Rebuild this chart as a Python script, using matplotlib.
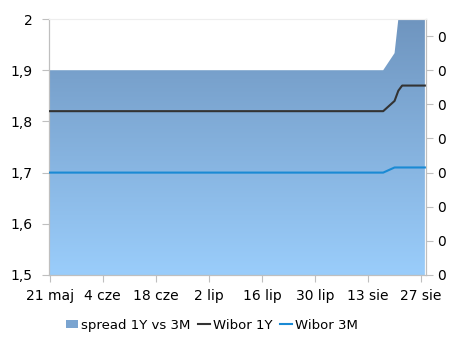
import numpy as np
import pandas as pd
import matplotlib
matplotlib.use("Agg")
import matplotlib.pyplot as plt
import matplotlib.dates as mdates
from matplotlib.colors import LinearSegmentedColormap
from matplotlib.patches import Patch
from matplotlib.lines import Line2D
from matplotlib.ticker import FixedLocator, FuncFormatter

# dni robocze 21.05 - 28.08
dates = pd.bdate_range("2012-05-21", "2012-08-28")
n = len(dates)

# stawki WIBOR (%): plasko do 17 sie, potem wzrost
wibor_1y_tail = [1.84, 1.86, 1.87, 1.87, 1.87, 1.87, 1.87]
wibor_3m_tail = [1.71, 1.71, 1.71, 1.71, 1.71, 1.71, 1.71]
wibor_1y = [1.82] * (n - len(wibor_1y_tail)) + wibor_1y_tail
wibor_3m = [1.70] * (n - len(wibor_3m_tail)) + wibor_3m_tail
spread = [round(a - b, 2) for a, b in zip(wibor_1y, wibor_3m)]

tick_dates = pd.date_range("2012-05-21", "2012-08-27", freq="14D")
tick_labels = ["21 maj", "4 cze", "18 cze", "2 lip", "16 lip", "30 lip", "13 sie", "27 sie"]

fig = plt.figure(figsize=(4.51, 3.37), dpi=100)
ax = fig.add_axes([0.1086, 0.184, 0.836, 0.7596])
ax2 = ax.twinx()
ax2.set_zorder(0)
ax.set_zorder(1)
ax.patch.set_visible(False)

x = mdates.date2num(dates)

# spread na prawej osi, wypelnienie z gradientem
ax2.set_ylim(0, 0.15)
poly = ax2.fill_between(x, 0, spread, color="none", lw=0)
cmap = LinearSegmentedColormap.from_list("spr", ["#9acdfb", "#6f95bf"])
grad = np.linspace(0, 1, 256).reshape(-1, 1)
img = ax2.imshow(grad, cmap=cmap, origin="lower", aspect="auto",
                 extent=[x[0], x[-1], 0, 0.15], zorder=1)
img.set_clip_path(poly.get_paths()[0], transform=ax2.transData)

ax.plot(x, wibor_1y, color="#333333", lw=1.5, zorder=3)
ax.plot(x, wibor_3m, color="#1a8ad4", lw=1.5, zorder=3)

ax.set_ylim(1.5, 2.0)
ax.set_xlim(x[0] - 0.2, x[-1] + 0.3)
ax.set_yticks([1.5, 1.6, 1.7, 1.8, 1.9, 2.0])
ax.yaxis.set_major_formatter(FuncFormatter(lambda v, p: f"{v:g}".replace(".", ",")))
ax2.yaxis.set_major_locator(FixedLocator(np.arange(0, 0.15, 0.02)))
ax2.yaxis.set_major_formatter(FuncFormatter(lambda v, p: f"{v:.0f}"))

ax.set_xticks(mdates.date2num(tick_dates))
ax.set_xticklabels(tick_labels)

for a in (ax, ax2):
    for s in a.spines.values():
        s.set_color("#bfbfbf")
        s.set_linewidth(0.8)
    a.spines["top"].set_color("#eeeeee")
    a.tick_params(colors="#bfbfbf", labelcolor="black", labelsize=10,
                  length=5, width=0.8, direction="out")
ax.tick_params(axis="y", pad=7)
ax2.tick_params(axis="y", pad=3)
ax.tick_params(axis="x", pad=5)

handles = [Patch(facecolor="#7aa4d0", edgecolor="none"),
           Line2D([], [], color="#333333", lw=1.5),
           Line2D([], [], color="#1a8ad4", lw=1.5)]
fig.legend(handles, ["spread 1Y vs 3M", "Wibor 1Y", "Wibor 3M"],
           loc="center", bbox_to_anchor=(0.47, 0.035), ncol=3, frameon=False,
           fontsize=9.5, handlelength=0.9, handleheight=0.5,
           handletextpad=0.2, columnspacing=0.6)

fig.savefig("out.png", dpi=100)
